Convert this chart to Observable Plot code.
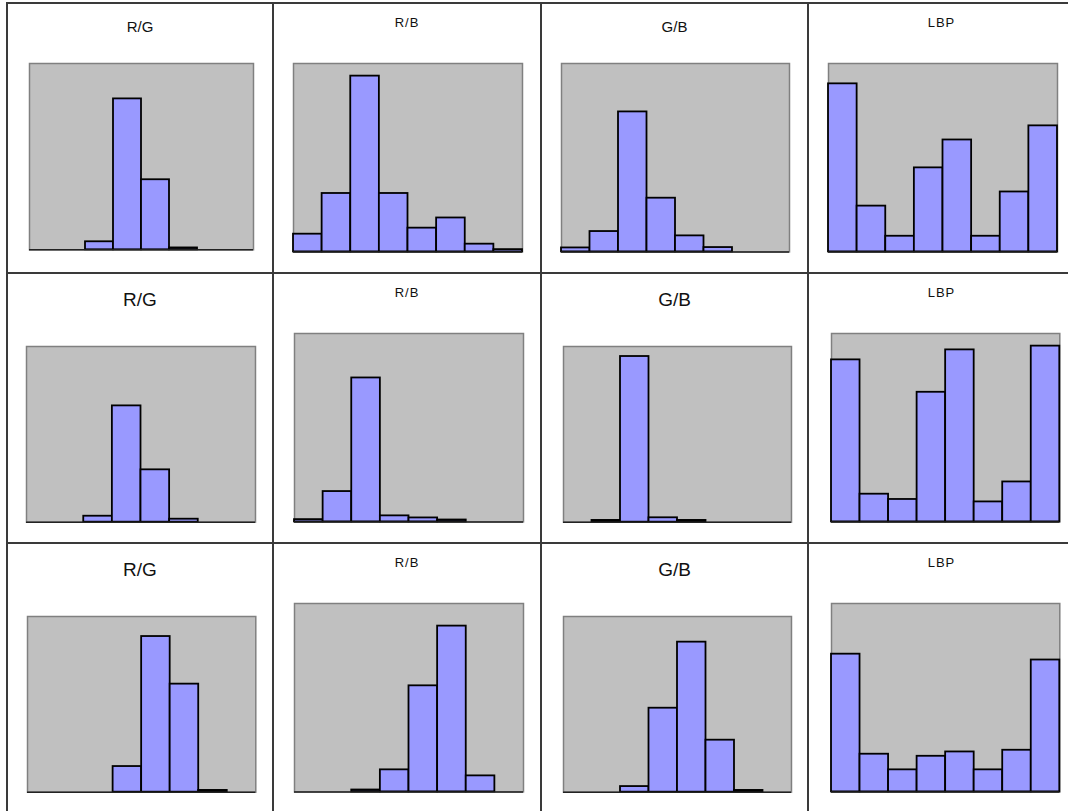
<!DOCTYPE html>
<html>
<head>
<meta charset="utf-8">
<script src="https://cdn.jsdelivr.net/npm/d3@7"></script>
<script src="https://cdn.jsdelivr.net/npm/@observablehq/plot@0.6"></script>
<style>
  html, body { margin: 0; padding: 0; background: #fff; }
  #wrap { position: relative; width: 1068px; height: 811px; overflow: hidden; background: #fff; font-family: "Liberation Sans", Arial, sans-serif; }
  .panel { position: absolute; box-sizing: border-box; border: 2px solid #3a3a3a; }
  .title { position: absolute; text-align: center; color: #111; white-space: nowrap; }
  .chart { position: absolute; }
</style>
</head>
<body>
<div id="wrap"></div>
<script>
// ---- data: 8 histogram bins per panel (bar height as share of plot height) ----
const bins = [0, 1, 2, 3, 4, 5, 6, 7];
const titles = ["R/G", "R/B", "G/B", "LBP"];

const rgRow1  = [0, 0, 0.043, 0.81, 0.376, 0.01, 0, 0];
const rbRow1  = [0.094, 0.31, 0.933, 0.31, 0.126, 0.18, 0.041, 0.012];
const gbRow1  = [0.021, 0.108, 0.743, 0.285, 0.085, 0.023, 0, 0];
const lbpRow1 = [0.892, 0.243, 0.083, 0.446, 0.594, 0.083, 0.318, 0.669];

const rgRow2  = [0, 0, 0.034, 0.662, 0.298, 0.017, 0, 0];
const rbRow2  = [0.012, 0.161, 0.764, 0.032, 0.021, 0.01, 0, 0];
const gbRow2  = [0, 0.01, 0.943, 0.025, 0.01, 0, 0, 0];
const lbpRow2 = [0.86, 0.147, 0.119, 0.688, 0.913, 0.106, 0.212, 0.933];

const rgRow3  = [0, 0, 0, 0.146, 0.886, 0.615, 0.01, 0];
const rbRow3  = [0, 0, 0.01, 0.117, 0.563, 0.88, 0.085, 0];
const gbRow3  = [0, 0, 0.032, 0.478, 0.854, 0.296, 0.01, 0];
const lbpRow3 = [0.731, 0.2, 0.117, 0.189, 0.212, 0.117, 0.221, 0.70];

const rows = [
  [rgRow1, rbRow1, gbRow1, lbpRow1],
  [rgRow2, rbRow2, gbRow2, lbpRow2],
  [rgRow3, rbRow3, gbRow3, lbpRow3]
];

// ---- layout ----
const colLines = [7, 273, 541, 808, 1075];
const rowLines = [3, 273, 543, 813];
// title font size per panel
const titleSize = [
  [15, 13, 15, 13],
  [19, 13, 19, 13],
  [19, 13, 19, 13]
];
// plot (grey) area per panel: [x0, x1, y0, y1]
const areas = [
  [[29, 253, 63, 249.3], [293, 522, 63.3, 251.7], [561, 789, 63.3, 251.7], [828, 1057, 63.3, 251.7]],
  [[26, 255, 346, 521.7], [294.3, 523.3, 333.3, 521.7], [562.7, 790.7, 346, 521.7], [830.7, 1059, 333.3, 521.7]],
  [[26.7, 255, 616, 791.7], [294.3, 523.3, 603.3, 791.7], [562.7, 790.7, 616, 791.7], [830.7, 1059, 603.3, 791.7]]
];

const wrap = document.getElementById("wrap");
const pad = 3;

rows.forEach((row, r) => {
  row.forEach((values, c) => {
    const px = colLines[c] - 1, py = rowLines[r] - 1;
    const pw = colLines[c + 1] - colLines[c] + 2, ph = rowLines[r + 1] - rowLines[r] + 2;
    const panel = document.createElement("div");
    panel.className = "panel";
    Object.assign(panel.style, {left: px + "px", top: py + "px", width: pw + "px", height: ph + "px"});
    wrap.appendChild(panel);

    const fs = titleSize[r][c];
    const big = fs >= 15;
    const center = rowLines[r] + (big ? (r === 0 ? 24 : 27) : 20);
    const t = document.createElement("div");
    t.className = "title";
    t.textContent = titles[c];
    Object.assign(t.style, {
      left: colLines[c] + "px", width: (colLines[c + 1] - colLines[c]) + "px",
      top: (center - fs * 0.6) + "px", fontSize: fs + "px", lineHeight: (fs * 1.2) + "px",
      letterSpacing: big ? "0px" : "1px"
    });
    wrap.appendChild(t);

    const [x0, x1, y0, y1] = areas[r][c];
    const data = bins.map((b, i) => ({b, v: values[i]}));
    const chart = Plot.plot({
      width: x1 - x0 + 2 * pad,
      height: y1 - y0 + 2 * pad,
      margin: pad,
      x: {domain: [0, 8], axis: null},
      y: {domain: [0, 1], axis: null},
      style: {background: "transparent", overflow: "visible"},
      marks: [
        Plot.frame({fill: "#c0c0c0", stroke: "#808080", strokeWidth: 1.5}),
        Plot.rectY(data.filter(d => d.v > 0), {
          x1: "b", x2: d => d.b + 1, y: "v",
          fill: "#9999ff", stroke: "#000", strokeWidth: 1.8
        }),
        Plot.ruleY([0], {stroke: "#222", strokeWidth: 1.5})
      ]
    });
    chart.classList.add("chart");
    chart.style.left = (x0 - pad) + "px";
    chart.style.top = (y0 - pad) + "px";
    wrap.appendChild(chart);
  });
});
</script>
</body>
</html>
